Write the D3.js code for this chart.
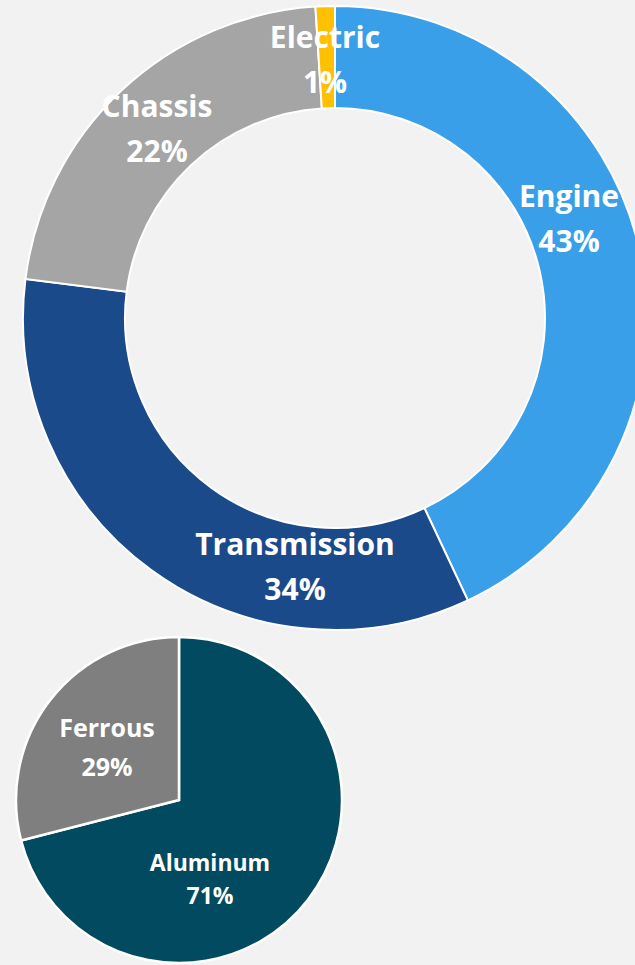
<!DOCTYPE html>
<html lang="en">
<head>
    <meta charset="UTF-8">
    <title>Component and Material Share</title>
    <script src="https://d3js.org/d3.v7.min.js"></script>
    <style>
        body { margin: 0; background: #f2f2f2; }
        svg { display: block; }
        .lbl { font-family: "Open Sans", sans-serif; font-weight: 700; fill: #fff; text-anchor: middle; }
    </style>
</head>
<body>
    <svg id="chart" width="635" height="965"></svg>
    <script>
        // donut: share by component
        var components = ["Engine", "Transmission", "Chassis", "Electric"];
        var componentShare = [43, 34, 22, 1];
        var componentColors = ["#3a9fe9", "#1b4a8a", "#a5a5a5", "#ffc000"];

        // pie: share by material
        var materials = ["Aluminum", "Ferrous"];
        var materialShare = [71, 29];
        var materialColors = ["#024a5f", "#7f7f7f"];

        var svg = d3.select("#chart");

        var pie = d3.pie().sort(null).value(d => d.value);

        // ---- donut
        var donut = { cx: 335, cy: 318, inner: 210, outer: 312 };
        var donutData = components.map((c, i) => ({ name: c, value: componentShare[i], color: componentColors[i] }));
        var arcDonut = d3.arc().innerRadius(donut.inner).outerRadius(donut.outer);

        var gDonut = svg.append("g")
            .attr("transform", "translate(" + donut.cx + "," + donut.cy + ")");

        gDonut.selectAll("path")
            .data(pie(donutData))
            .enter().append("path")
            .attr("d", arcDonut)
            .attr("fill", d => d.data.color)
            .attr("stroke", "#fff")
            .attr("stroke-width", 2);

        // labels were hand-placed in the original, so keep them in page coords
        var donutLabels = {
            "Engine":       { x: 569, y: 207 },
            "Transmission": { x: 295, y: 555 },
            "Chassis":      { x: 157, y: 117 },
            "Electric":     { x: 325, y: 48 }
        };

        donutData.forEach(function(d) {
            var p = donutLabels[d.name];
            var t = svg.append("text").attr("class", "lbl").style("font-size", "30px");
            t.append("tspan").attr("x", p.x).attr("y", p.y).text(d.name);
            t.append("tspan").attr("x", p.x).attr("y", p.y + 45).text(d.value + "%");
        });

        // ---- pie
        var pieBox = { cx: 179, cy: 800, r: 163 };
        var pieData = materials.map((m, i) => ({ name: m, value: materialShare[i], color: materialColors[i] }));
        var arcPie = d3.arc().innerRadius(0).outerRadius(pieBox.r);

        var gPie = svg.append("g")
            .attr("transform", "translate(" + pieBox.cx + "," + pieBox.cy + ")");

        gPie.selectAll("path")
            .data(pie(pieData))
            .enter().append("path")
            .attr("d", arcPie)
            .attr("fill", d => d.data.color)
            .attr("stroke", "#fff")
            .attr("stroke-width", 2.5);

        var pieLabels = {
            "Aluminum": { x: 210, y: 871, size: 23, gap: 33 },
            "Ferrous":  { x: 107, y: 737, size: 25, gap: 39 }
        };

        pieData.forEach(function(d) {
            var p = pieLabels[d.name];
            var t = svg.append("text").attr("class", "lbl").style("font-size", p.size + "px");
            t.append("tspan").attr("x", p.x).attr("y", p.y).text(d.name);
            t.append("tspan").attr("x", p.x).attr("y", p.y + p.gap).text(d.value + "%");
        });
    </script>
</body>
</html>
